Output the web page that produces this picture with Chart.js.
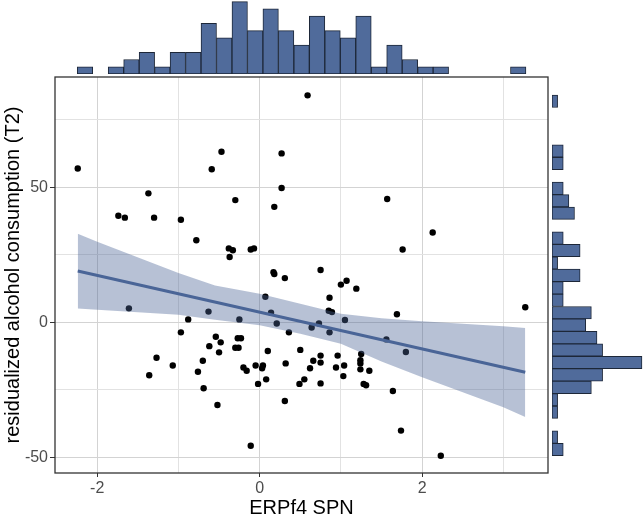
<!DOCTYPE html>
<html>
<head>
<meta charset="utf-8">
<script src="https://cdn.jsdelivr.net/npm/chart.js@4.4.1/dist/chart.umd.min.js"></script>
<style>
  body { margin: 0; background: #fff; }
  #wrap { position: relative; width: 644px; height: 518px; }
  canvas { position: absolute; top: 0; }
</style>
</head>
<body>
<div id="wrap">
  <canvas id="mainChart" width="644" height="518" style="left:0"></canvas>
  <canvas id="topHist" width="644" height="74" style="left:0"></canvas>
  <canvas id="rightHist" width="92" height="518" style="left:552px"></canvas>
</div>
<script>
// scatter points: ERPf4 SPN vs residualized alcohol consumption (T2)
const spnValues = [
  -2.24, -0.47, -0.59, -1.37, -0.30, -1.74, -1.66, -1.30, -0.97, -0.78,
  -0.38, -0.33, -0.37, -0.11, -0.07, -1.61, -0.63, -0.88, -0.25, -0.97,
  -0.54, -0.62, -0.48, -0.50, -0.27, -0.23, -0.30, -0.26, -1.27, -1.07,
  -0.70, -1.36, -0.76, -0.20, -0.16, -0.05, -0.69, -0.02, -0.52, -0.11,
  0.59, 0.27, 0.27, 0.18, 1.57, 2.13, 1.76, 0.17, 0.18, 0.31,
  0.75, 1.00, 1.07, 1.19, 0.86, 0.85, 0.89, 0.07, 0.14, 0.21,
  0.36, 0.64, 0.73, 0.86, 1.05, 1.69, 3.27, 1.56, 1.80, 0.10,
  0.50, 0.04, 0.03, 0.32, 0.66, 0.75, 0.75, 0.62, 0.96, 0.94,
  1.04, 1.25, 1.24, 1.24, 1.24, 1.35, 0.08, 0.49, 0.55, 0.75,
  1.03, 1.28, 1.31, 0.31, 1.64, 1.74, 2.23
];
const alcoholValues = [
  57.0, 63.2, 56.7, 47.8, 45.3, 39.5, 38.8, 38.8, 38.0, 30.4,
  27.4, 26.7, 24.2, 27.0, 27.4, 5.2, 4.0, 1.1, 1.1, -3.7,
  -5.3, -8.8, -7.4, -11.1, -5.9, -5.9, -9.4, -9.4, -13.1, -16.0,
  -14.2, -19.6, -18.3, -16.7, -17.9, -16.0, -24.4, -22.8, -30.6, -45.7,
  84.1, 62.6, 49.8, 42.8, 45.7, 33.3, 27.0, 18.6, 17.9, 16.4,
  19.4, 14.0, 15.4, 12.5, 9.1, 4.3, 3.8, 9.5, 3.6, -0.4,
  -3.7, -1.9, -0.4, -3.7, 0.9, 3.0, 5.6, -6.3, -11.0, -10.6,
  -10.2, -16.0, -17.0, -15.2, -14.2, -12.3, -14.9, -17.0, -12.3, -16.7,
  -16.0, -11.7, -14.0, -15.2, -17.4, -17.9, -21.1, -22.8, -21.1, -22.6,
  -19.9, -22.8, -23.3, -29.1, -25.4, -40.1, -49.4
];

// fitted line and confidence band
const fitX = [-2.24, 3.27];
const fitY = [19.0, -18.5];
const bandX = [-2.24, -2.0, -1.0, -0.55, 0.0, 0.5, 1.0, 1.5, 2.0, 3.0, 3.27];
const bandUpper = [32.8, 29.9, 18.3, 13.7, 10.6, 6.9, 3.2, 1.5, 0.4, -1.4, -2.1];
const bandLower = [5.1, 4.7, 2.8, 1.0, -1.1, -4.2, -7.9, -14.5, -20.3, -31.4, -35.1];

// marginal histogram of x (29 bins)
const xBinStart = -2.246;
const xBinWidth = 0.1905;
const xBinCounts = [1, 0, 1, 2, 3, 1, 3, 3, 7, 5, 10, 6, 9, 6, 4, 8, 6, 5, 8, 1, 4, 2, 1, 1, 0, 0, 0, 0, 1];

// marginal histogram of y (29 bins, top to bottom)
const yBinTop = 84.2;
const yBinWidth = 4.607;
const yBinCounts = [1, 0, 0, 0, 2, 2, 0, 2, 3, 4, 0, 2, 5, 1, 5, 2, 2, 7, 6, 8, 9, 16, 9, 7, 1, 1, 0, 1, 2];

const xTickLabels = [-2, 0, 2];
const yTickLabels = [-50, 0, 50];

const xMin = -2.52, xMax = 3.55;
const yMin = -55.8, yMax = 90.9;

const barFill = '#506b9b';
const barEdge = '#1d2738';
const fitBlue = '#4a6597';

Chart.defaults.font.family = "'Liberation Sans', Arial, sans-serif";
Chart.defaults.animation = false;

const pointData = spnValues.map((x, i) => ({ x: x, y: alcoholValues[i] }));
const fitData = fitX.map((x, i) => ({ x: x, y: fitY[i] }));
const upperData = bandX.map((x, i) => ({ x: x, y: bandUpper[i] }));
const lowerData = bandX.map((x, i) => ({ x: x, y: bandLower[i] }));

const panelBorder = {
    id: 'panelBorder',
    afterDraw(chart) {
        const a = chart.chartArea;
        const ctx = chart.ctx;
        ctx.save();
        ctx.strokeStyle = '#333333';
        ctx.lineWidth = 1.3;
        ctx.strokeRect(a.left, a.top, a.right - a.left, a.bottom - a.top);
        ctx.restore();
    }
};

const gridColor = function (ctx, labels) {
    if (!ctx.tick) return '#d6d6d6';
    return labels.includes(ctx.tick.value) ? '#d3d3d3' : '#e2e2e2';
};
const tickColor = function (ctx, labels) {
    if (!ctx.tick) return '#333333';
    return labels.includes(ctx.tick.value) ? '#333333' : 'rgba(0,0,0,0)';
};

new Chart(document.getElementById('mainChart'), {
    type: 'scatter',
    data: {
        datasets: [{
            type: 'line',
            data: fitData,
            borderColor: fitBlue,
            borderWidth: 3,
            pointRadius: 0,
            fill: false,
        }, {
            type: 'line',
            data: upperData,
            borderColor: 'rgba(0,0,0,0)',
            borderWidth: 0,
            pointRadius: 0,
            fill: '+1',
            backgroundColor: 'rgba(74,101,151,0.4)',
        }, {
            type: 'line',
            data: lowerData,
            borderColor: 'rgba(0,0,0,0)',
            borderWidth: 0,
            pointRadius: 0,
            fill: false,
        }, {
            data: pointData,
            backgroundColor: '#000000',
            borderWidth: 0,
            pointRadius: 3.2,
        }],
    },
    options: {
        responsive: false,
        devicePixelRatio: 1,
        layout: {
            padding: { top: 77, right: 96, bottom: 0, left: 0 }
        },
        plugins: {
            legend: { display: false },
            tooltip: { enabled: false },
        },
        scales: {
            x: {
                type: 'linear',
                min: xMin,
                max: xMax,
                afterFit: function (scale) { scale.height = 45; },
                border: { display: false },
                grid: {
                    color: (ctx) => gridColor(ctx, xTickLabels),
                    tickColor: (ctx) => tickColor(ctx, xTickLabels),
                    tickLength: 4,
                },
                ticks: {
                    stepSize: 1,
                    includeBounds: false,
                    autoSkip: false,
                    maxRotation: 0,
                    padding: 2,
                    color: '#4d4d4d',
                    font: { size: 16 },
                    callback: (v) => xTickLabels.includes(v) ? String(v) : '',
                },
                title: {
                    display: true,
                    text: 'ERPf4 SPN',
                    color: '#000000',
                    font: { size: 20, lineHeight: 1 },
                    padding: { top: 0, bottom: 0 },
                },
            },
            y: {
                type: 'linear',
                min: yMin,
                max: yMax,
                afterFit: function (scale) { scale.width = 55; },
                border: { display: false },
                grid: {
                    color: (ctx) => gridColor(ctx, yTickLabels),
                    tickColor: (ctx) => tickColor(ctx, yTickLabels),
                    tickLength: 5,
                },
                ticks: {
                    stepSize: 25,
                    includeBounds: false,
                    autoSkip: false,
                    padding: 2,
                    color: '#4d4d4d',
                    font: { size: 16 },
                    callback: (v) => yTickLabels.includes(v) ? String(v) : '',
                },
                title: {
                    display: true,
                    text: 'residualized alcohol consumption (T2)',
                    color: '#000000',
                    font: { size: 20, lineHeight: 1 },
                    padding: { top: 3, bottom: 0 },
                },
            },
        },
    },
    plugins: [panelBorder],
});

// top marginal histogram
const xBins = xBinCounts.map((c, i) => ({ x: xBinStart + xBinWidth * (i + 0.5), y: c }));
new Chart(document.getElementById('topHist'), {
    type: 'bar',
    data: {
        datasets: [{
            data: xBins,
            backgroundColor: barFill,
            borderColor: barEdge,
            borderWidth: 1,
            borderSkipped: false,
            barPercentage: 1,
            categoryPercentage: 1,
        }],
    },
    options: {
        responsive: false,
        devicePixelRatio: 1,
        layout: { padding: { top: 0, right: 96, bottom: 0, left: 55 } },
        plugins: { legend: { display: false }, tooltip: { enabled: false } },
        scales: {
            x: { type: 'linear', min: xMin, max: xMax, offset: false, display: false },
            y: { min: 0, max: 10.23, display: false },
        },
    },
});

// right marginal histogram
const yBins = yBinCounts.map((c, i) => ({ x: c, y: yBinTop - yBinWidth * (i + 0.5) }));
new Chart(document.getElementById('rightHist'), {
    type: 'bar',
    data: {
        datasets: [{
            data: yBins,
            backgroundColor: barFill,
            borderColor: barEdge,
            borderWidth: 1,
            borderSkipped: false,
            barPercentage: 1,
            categoryPercentage: 1,
        }],
    },
    options: {
        indexAxis: 'y',
        responsive: false,
        devicePixelRatio: 1,
        layout: { padding: { top: 77, right: 0, bottom: 45, left: 0 } },
        plugins: { legend: { display: false }, tooltip: { enabled: false } },
        scales: {
            x: { min: 0, max: 16.36, display: false },
            y: { type: 'linear', min: yMin, max: yMax, offset: false, display: false },
        },
    },
});
</script>
</body>
</html>
